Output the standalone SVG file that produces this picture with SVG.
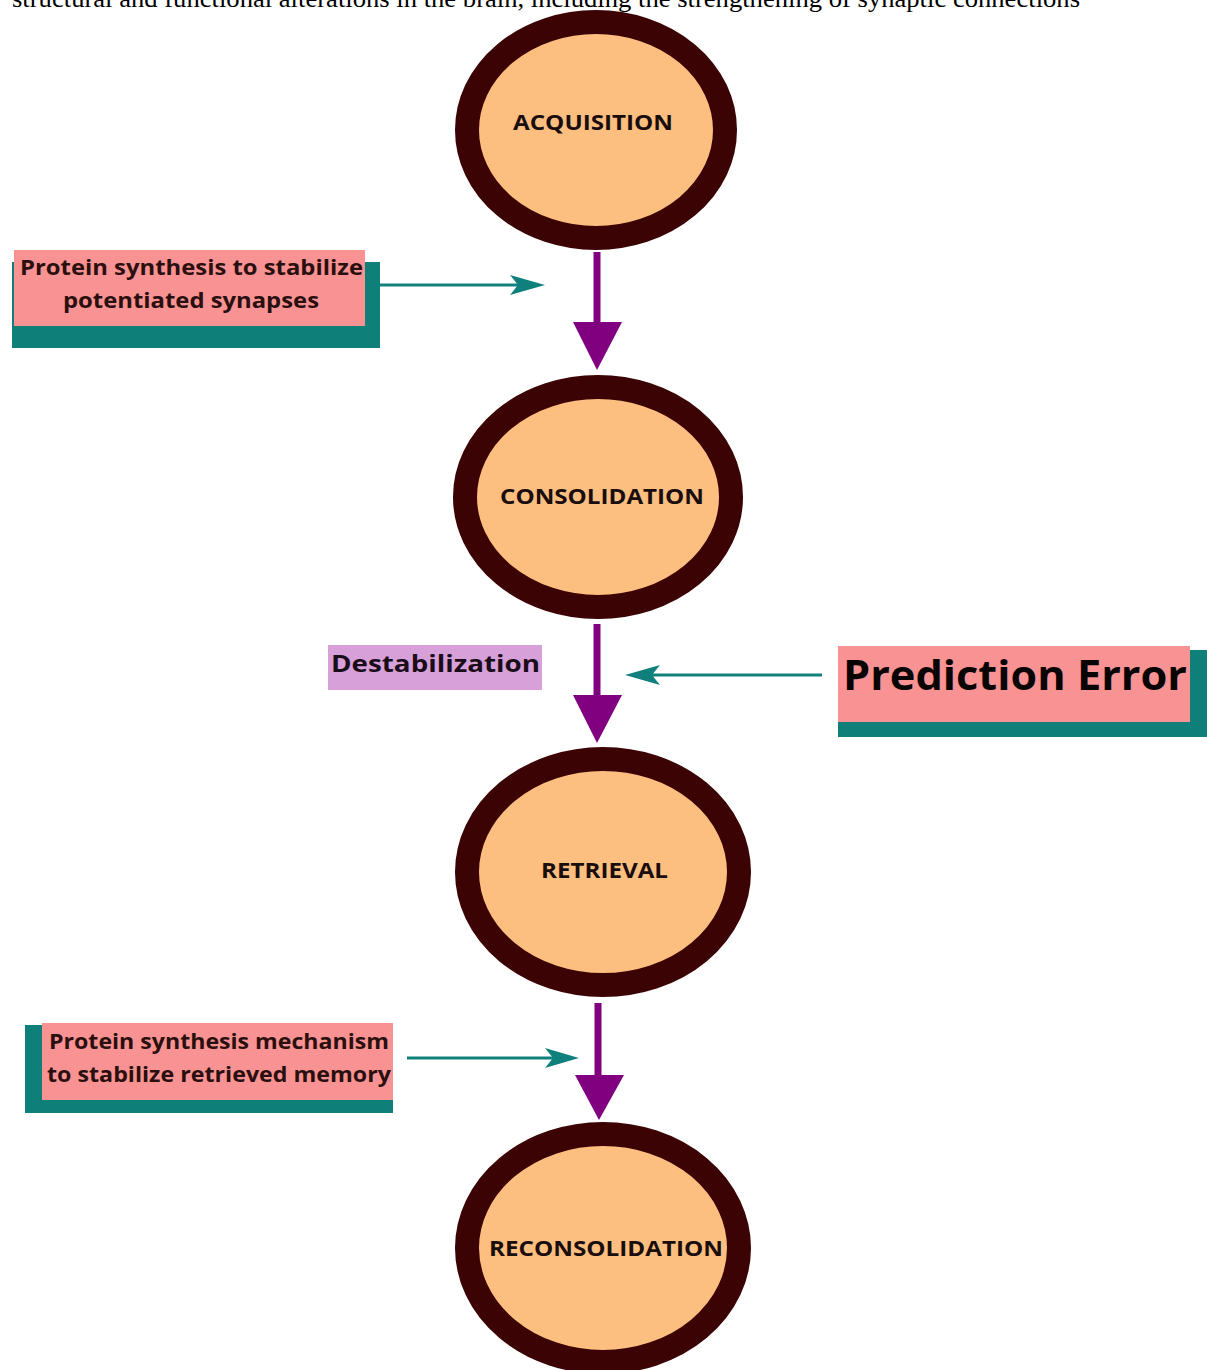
<svg xmlns="http://www.w3.org/2000/svg" width="1207" height="1370" viewBox="0 0 1207 1370">
<style>
.node{fill:#fdbf80;stroke:#3b0303;stroke-width:24}
.nl{font-family:"Open Sans","DejaVu Sans",sans-serif;font-weight:bold;font-size:21px;fill:#1a0d0d;text-anchor:middle}
.bl{font-family:"Open Sans","DejaVu Sans",sans-serif;font-weight:bold;font-size:21px;fill:#2a0f0f;text-anchor:middle}
.pa{stroke:#800080;stroke-width:7;fill:none}
.ph{fill:#800080}
.ta{stroke:#10807c;stroke-width:3;fill:none}
.th{fill:#10807c}
.teal{fill:#0f7f7a}
.pink{fill:#f99292}
</style>
<rect width="1207" height="1370" fill="#ffffff"/>
<text x="12" y="7" font-family="'Liberation Serif',serif" font-size="26" fill="#000" textLength="1068" lengthAdjust="spacingAndGlyphs">structural and functional alterations in the brain, including the strengthening of synaptic connections</text>

<g id="connectors">
  <line class="pa" x1="597" y1="252" x2="597" y2="326"/>
  <polygon class="ph" points="573,322 622,322 597,370"/>
  <line class="pa" x1="597" y1="624" x2="597" y2="698"/>
  <polygon class="ph" points="573,695 622,695 597,743"/>
  <line class="pa" x1="598" y1="1003" x2="598" y2="1078"/>
  <polygon class="ph" points="575,1075 624,1075 599,1120"/>
  <line class="ta" x1="380" y1="285" x2="520" y2="285"/>
  <polygon class="th" points="545,285 510,275 518,285 510,295"/>
  <line class="ta" x1="822" y1="675" x2="650" y2="675"/>
  <polygon class="th" points="625,675 660,665 652,675 660,685"/>
  <line class="ta" x1="407" y1="1058" x2="555" y2="1058"/>
  <polygon class="th" points="579,1058 545,1048 553,1058 545,1068"/>
</g>

<g id="acquisition">
  <ellipse class="node" cx="596" cy="130" rx="129" ry="108"/>
  <text class="nl" x="593" y="130" textLength="160" lengthAdjust="spacingAndGlyphs">ACQUISITION</text>
</g>
<g id="consolidation">
  <ellipse class="node" cx="598" cy="497" rx="133" ry="110"/>
  <text class="nl" x="602" y="504" textLength="204" lengthAdjust="spacingAndGlyphs">CONSOLIDATION</text>
</g>
<g id="retrieval">
  <ellipse class="node" cx="603" cy="872" rx="136" ry="113"/>
  <text class="nl" x="604.5" y="878" textLength="127" lengthAdjust="spacingAndGlyphs">RETRIEVAL</text>
</g>
<g id="reconsolidation">
  <ellipse class="node" cx="603" cy="1248" rx="136" ry="114"/>
  <text class="nl" x="606" y="1256" textLength="234" lengthAdjust="spacingAndGlyphs">RECONSOLIDATION</text>
</g>

<g id="protein-synthesis-1">
  <rect class="teal" x="12" y="262" width="368" height="86"/>
  <rect class="pink" x="14" y="250" width="351" height="76"/>
  <text class="bl" x="191.5" y="275" textLength="343" lengthAdjust="spacingAndGlyphs">Protein synthesis to stabilize</text>
  <text class="bl" x="191" y="308" textLength="256" lengthAdjust="spacingAndGlyphs">potentiated synapses</text>
</g>
<g id="destabilization">
  <rect x="328" y="645" width="214" height="45" fill="#d8a0d8"/>
  <text x="435.5" y="672" font-family="'Open Sans','DejaVu Sans',sans-serif" font-weight="bold" font-size="23" fill="#1a0d1a" text-anchor="middle" textLength="209" lengthAdjust="spacingAndGlyphs">Destabilization</text>
</g>
<g id="prediction-error">
  <rect class="teal" x="838" y="650" width="369" height="87"/>
  <rect class="pink" x="838" y="646" width="352" height="76"/>
  <text x="1015" y="690" font-family="'Open Sans','DejaVu Sans',sans-serif" font-weight="bold" font-size="41" fill="#0a0505" text-anchor="middle" textLength="344" lengthAdjust="spacingAndGlyphs">Prediction Error</text>
</g>
<g id="protein-synthesis-2">
  <rect class="teal" x="25" y="1025" width="368" height="88"/>
  <rect class="pink" x="42" y="1023" width="351" height="77"/>
  <text class="bl" x="219" y="1049" textLength="340" lengthAdjust="spacingAndGlyphs">Protein synthesis mechanism</text>
  <text class="bl" x="219" y="1082" textLength="344" lengthAdjust="spacingAndGlyphs">to stabilize retrieved memory</text>
</g>
</svg>
